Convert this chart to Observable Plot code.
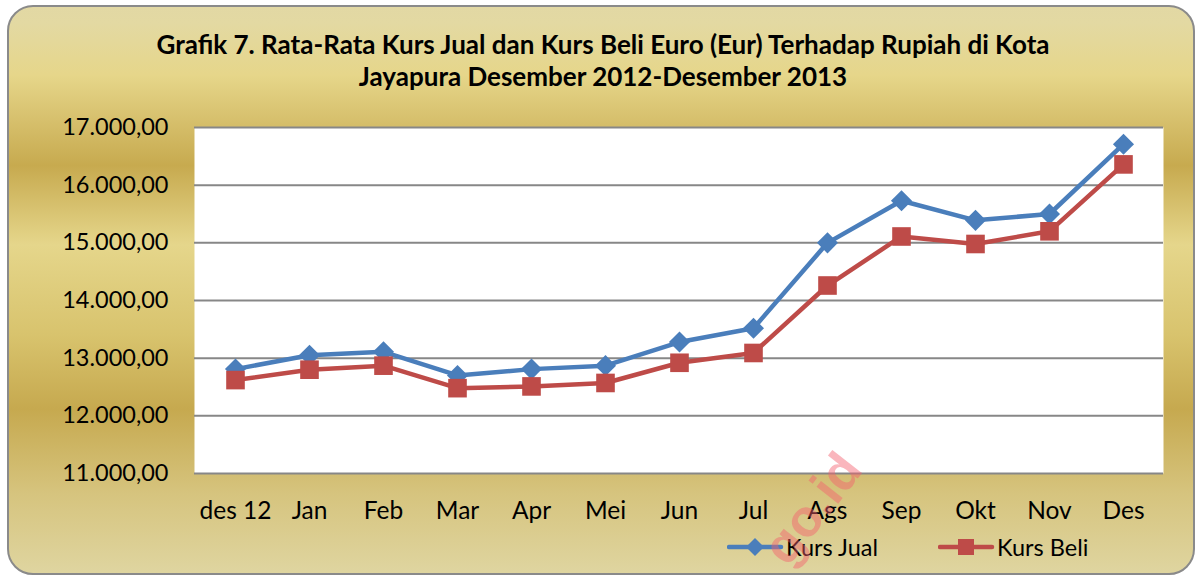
<!DOCTYPE html>
<html>
<head>
<meta charset="utf-8">
<script src="https://cdn.jsdelivr.net/npm/d3@7"></script>
<script src="https://cdn.jsdelivr.net/npm/@observablehq/plot@0.6"></script>
<style>
  html, body { margin: 0; padding: 0; background: #ffffff; }
  #card { position: relative; width: 1197px; height: 578px; overflow: hidden; font-family: Lato, "Open Sans", sans-serif; }
  #bg { position: absolute; left: 7px; top: 5px; width: 1184px; height: 566px; border: 2px solid #8a8a8a; border-radius: 26px;
        background: linear-gradient(to bottom, #e2d8a4 0%, #e3d9a2 3%, #e6d68a 12%, #c7aa4f 28%, #e5d68b 42%, #d8c36d 58%, #c6a94f 71%, #d6c47e 86%, #dfd5a0 100%); }
  #chart { position: absolute; left: 0; top: 0; }
  #title { position: absolute; left: 0; width: 1206px; top: 28px; text-align: center; font-weight: 700; font-size: 26px; line-height: 32px; color: #000; }
  #legend { position: absolute; left: 0; top: 530px; width: 1197px; height: 34px; }
  #legend .item { position: absolute; top: 0; height: 34px; display: flex; align-items: center; font-size: 23.5px; color: #000; }
  #watermark { position: absolute; left: 749px; top: 478px; width: 126px; height: 60px; line-height: 60px; text-align: center; font-weight: 700; font-size: 52px; color: #f5606e; opacity: 0.45; transform: rotate(-52deg); transform-origin: 50% 50%; white-space: nowrap; font-family: Arial, "Liberation Sans", sans-serif; }
</style>
</head>
<body>
<div id="card">
  <div id="bg"></div>
  <div id="chart"></div>
  <div id="title">Grafik 7. Rata-Rata Kurs Jual dan Kurs Beli Euro (Eur) Terhadap Rupiah di Kota<br>Jayapura Desember 2012-Desember 2013</div>
  <div id="legend"></div>
  <div id="watermark">go.id</div>
</div>
<script>
// ---- data ----
const categories = ["des 12", "Jan", "Feb", "Mar", "Apr", "Mei", "Jun", "Jul", "Ags", "Sep", "Okt", "Nov", "Des"];
const kursJual = [12810, 13050, 13110, 12700, 12810, 12870, 13280, 13520, 15000, 15730, 15390, 15500, 16710];
const kursBeli = [12620, 12800, 12870, 12480, 12510, 12570, 12920, 13090, 14260, 15110, 14980, 15200, 16360];
const yTicks = [11000, 12000, 13000, 14000, 15000, 16000, 17000];
const seriesNames = ["Kurs Jual", "Kurs Beli"];

const colJual = "#4a7ebb";
const colBeli = "#be4b48";

const idLocale = d3.formatLocale({decimal: ",", thousands: ".", grouping: [3], currency: ["", ""]});
const fmt = idLocale.format(",.2f");

const jualData = categories.map((c, i) => ({cat: c, v: kursJual[i]}));
const beliData = categories.map((c, i) => ({cat: c, v: kursBeli[i]}));

const chart = Plot.plot({
  width: 1197,
  height: 578,
  marginLeft: 194,
  marginRight: 34,
  marginTop: 127,
  marginBottom: 105,
  style: {fontFamily: "Lato, 'Open Sans', sans-serif", fontSize: "23px", color: "#000", background: "transparent", overflow: "visible"},
  x: {type: "point", domain: categories, padding: 0.5, align: 0.5},
  y: {domain: [11000, 17000]},
  marks: [
    Plot.frame({fill: "white", stroke: null}),
    Plot.ruleY(yTicks, {stroke: "#878787", strokeWidth: 2}),
    Plot.axisY({ticks: yTicks, tickSize: 0, tickPadding: 26, tickFormat: fmt, fontSize: 23.5, fill: "#000", label: null}),
    Plot.axisX({tickSize: 0, tickPadding: 28, fontSize: 24.5, fill: "#000", label: null}),
    Plot.line(jualData, {x: "cat", y: "v", stroke: colJual, strokeWidth: 4.5}),
    Plot.dot(jualData, {x: "cat", y: "v", symbol: "diamond2", r: 9.5, fill: colJual, stroke: null}),
    Plot.line(beliData, {x: "cat", y: "v", stroke: colBeli, strokeWidth: 4.5}),
    Plot.dot(beliData, {x: "cat", y: "v", symbol: "square", r: 10.5, fill: colBeli, stroke: null})
  ]
});
document.getElementById("chart").appendChild(chart);

// ---- legend ----
const legend = document.getElementById("legend");
const legendItems = [
  {name: seriesNames[0], color: colJual, left: 727, shape: "diamond"},
  {name: seriesNames[1], color: colBeli, left: 938, shape: "square"}
];
legendItems.forEach(it => {
  const div = document.createElement("div");
  div.className = "item";
  div.style.left = it.left + "px";
  const marker = it.shape === "diamond"
    ? `<path d="M28,8 L37,17 L28,26 L19,17 Z" fill="${it.color}"/>`
    : `<rect x="20" y="9" width="16" height="16" fill="${it.color}"/>`;
  div.innerHTML = `<svg width="58" height="34" style="display:block"><line x1="2" x2="54" y1="17" y2="17" stroke="${it.color}" stroke-width="4.5" stroke-linecap="round"/>${marker}</svg><span style="margin-left:1px">${it.name}</span>`;
  legend.appendChild(div);
});
</script>
</body>
</html>
